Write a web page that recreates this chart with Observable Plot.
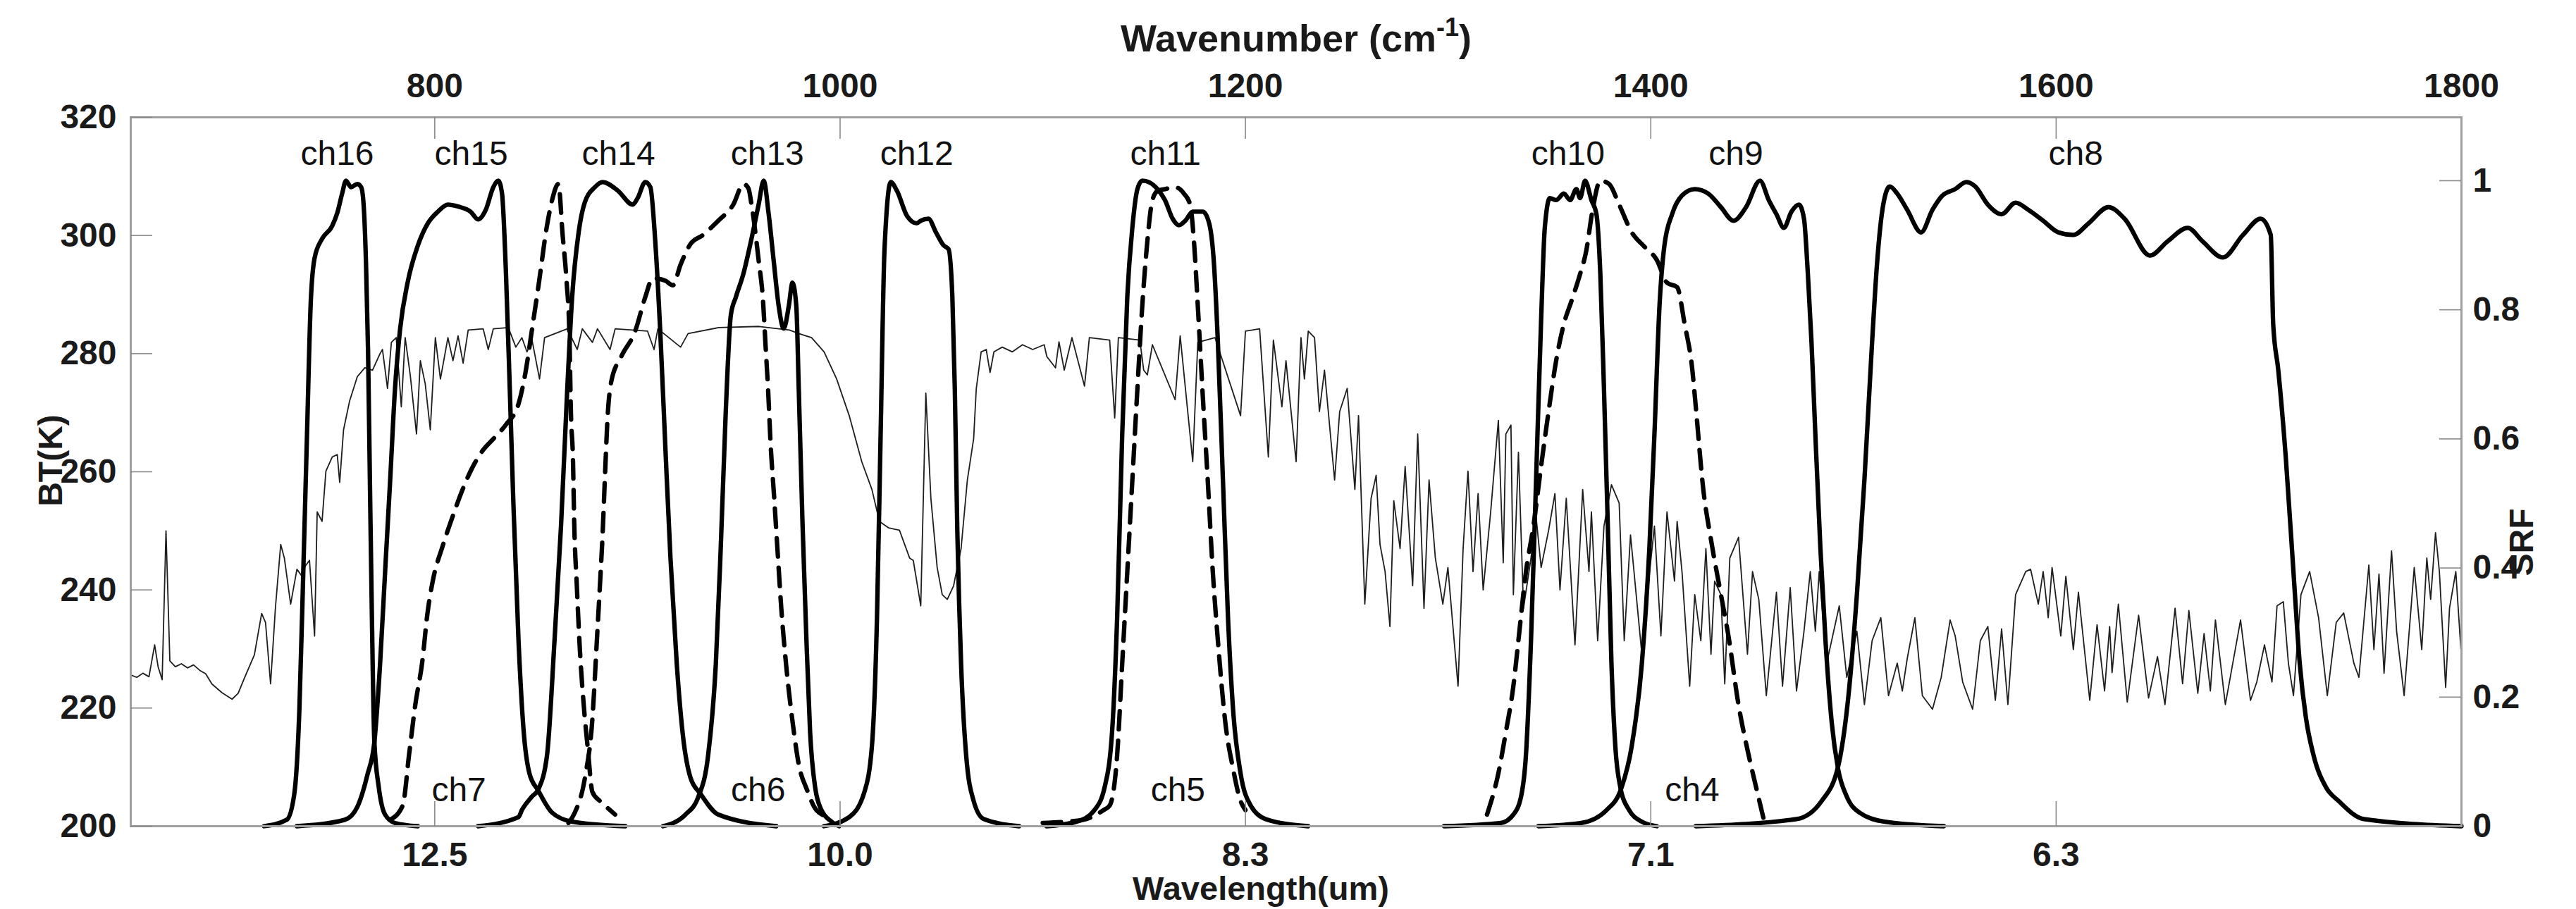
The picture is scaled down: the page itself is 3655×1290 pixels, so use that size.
<!DOCTYPE html>
<html><head><meta charset="utf-8">
<script src="https://cdn.jsdelivr.net/npm/d3@7"></script>
<script src="https://cdn.jsdelivr.net/npm/@observablehq/plot@0.6"></script>
<style>
html,body{margin:0;padding:0;background:#fff;}
#chart{width:3655px;height:1290px;overflow:hidden;}
</style></head><body><div id="chart"></div>
<script>
// ---------- DATA ----------
// Brightness temperature spectrum: [wavenumber (cm-1), BT (K)]
const btSpectrum = [
[650,225.6],[653,225.2],[656,225.9],[659,225.3],[661.8,230.7],[663.5,227],[665.5,224.8],[667.4,250],[669.3,228],[672,227],[675,227.5],[678,226.8],[681,227.3],[684,226.4],[687,225.8],[690,224.1],[695,222.6],[700,221.5],[703,222.5],[706,225],[711,229],[714.6,236],[716.5,234.5],[719,224.1],[721.4,237],[724,247.7],[725.8,245.4],[728.9,237.6],[732,243.5],[734.5,242.3],[736,244],[738.2,245],[740.7,232.2],[742,253.2],[744.4,251.6],[746.3,260.1],[749.4,262.5],[751.9,262.9],[753.1,258.2],[755,267.1],[758,272],[761.8,276.1],[765.5,277.6],[769.3,277.2],[773,280],[774.2,280.7],[776.7,274.1],[778.6,281.9],[781,282.7],[783.5,271],[785.4,282.7],[787.9,276.4],[791,266.4],[792.9,278.8],[795.3,274.9],[797.8,267.1],[800.3,282.7],[802.8,275.7],[806.5,282.7],[809,278.8],[811.5,283],[814,278.4],[816.5,284],[823.9,284.2],[826.4,280.7],[828.9,284.2],[836.3,284.4],[840,281.1],
[843,282.7],[845.5,280.3],[848,282.3],[851.7,275.7],[854.2,282.7],[865.4,284.2],[870.3,280.7],[872.8,284.2],[877.8,281.9],[880.3,284.2],[886.5,280.7],[889,284.2],[905,283.8],[908.2,280.7],[910.1,284.2],[921.3,281.1],[925,283.4],[940,284.4],[960,284.6],[975,284],[979.6,283.4],[985.9,282.7],[992.1,280.3],[998.3,275.7],[1004.5,269.5],[1010.7,261.7],[1015.7,257],[1019.4,251.6],[1024,250.5],[1029.3,250.1],[1034.3,245.4],
[1036.1,245],[1037.8,241.5],[1039.8,237.3],[1042.3,273.3],[1044.8,255.5],[1047.9,243.8],[1050.4,239.2],[1052.9,238.4],[1056,240.7],[1059.7,247],[1062.8,258.6],[1065.9,265.6],[1067.2,274.1],[1069.6,280.3],[1072.1,280.7],[1074,276.8],[1075.9,280.3],[1080,281.1],[1085,280.3],[1090,281.5],[1095,280.7],[1100.7,281.5],[1102,279.5],[1106.3,277.6],[1108,282],[1110.6,277.2],[1114.4,282.7],[1120.6,274.5],[1123,282.7],[1133,282.3],[1135.5,269.1],[1137.3,282.7],[1147.9,282.3],[1149.8,277.2],[1151.6,276.4],[1154.1,281.5],[1165.3,272.2],[1167.8,283],[1174,261.7],[1176.5,281.9],[1185,282.7],[1197.6,269.5],[1200,283.8],[1207,284.2],[1211.3,262.5],[1213.8,282.3],[1218,271],[1220,278.8],[1225,261.7],[1227.4,282.7],
[1229.1,275.7],[1231,283.8],[1234.1,282.7],[1236.5,270.2],[1239,277.2],[1244,258.6],[1246.5,270.2],[1250.2,274.1],[1254,257],[1255.8,269.5],[1258.9,237.6],[1262,255.5],[1264.5,259.4],[1266.4,247.7],[1268.9,243.1],[1271.3,233.8],[1273.2,255.1],[1276.3,247],[1278.8,260.9],[1282.5,240.7],[1285,266.4],[1288.1,236.9],[1290.6,258.6],[1293.7,245.4],[1297.4,237.6],[1299.9,243.8],[1304.9,223.7],[1307.4,247],[1309.8,260.1],[1312.3,243.1],[1314.8,256.3],[1317.3,240],[1321,253.2],[1324.8,268.7],[1327.2,244.6],[1328.5,266.4],[1331,267.9],[1332.2,239.2],[1334.7,263.3],[1337.2,236.9],[1340.9,245.4],[1343.4,252.4],[1345.9,243.8],[1349.6,250.1],[1352.7,256.3],[1355.2,240],[1358.3,255.5],[1362.6,230.7],[1366.4,257],[1369.5,243.1],[1370.7,253.2],[1373.8,231.4],[1376.9,250.8],[1380.6,257.8],[1384.4,254.7],[1386.9,231.4],[1390,249.3],[1395.6,229.1],[1398.7,240.7],[1401.8,250.8],[1405,232.2],[1408,253.2],[1411.7,241.5],[1413,251.6],[1415.4,243.1],[1419.2,223.7],[1421.7,239.2],
[1424.7,231.4],[1427.2,247],[1429.7,229.1],[1431.5,241.5],[1434.6,239.2],[1436.5,224.1],[1439,245.4],[1443.3,248.9],[1447.7,229.1],[1450.2,243.1],[1453.3,238.4],[1457,222.1],[1462,239.6],[1465,223.7],[1468.8,240.4],[1471.9,222.9],[1475.6,233],[1478.7,243.1],[1481.2,233],[1483.1,243.1],[1486.8,227.6],[1493,237.3],[1496.7,225.2],[1501.7,233],[1505.4,220.6],[1509.2,231.4],[1513.5,235.3],[1517.3,222.1],[1521.6,227.6],[1524.1,222.9],[1526.5,228.3],[1530.3,235.3],[1534,222.1],[1539,219.8],[1543.3,225.2],[1547.7,234.9],[1550.2,232.2],[1553.9,224.4],[1558.8,219.8],[1562.6,231.4],[1566.3,233.8],[1570,221.3],[1573.1,233.4],[1576.2,220.6],[1580,239.2],[1585,243.1],[1587.4,243.5],[1591.2,237.6],[1593.6,243.1],[1596.1,235.3],[1598,243.8],[1602.3,232.2],[1604.8,242.3],[1608.5,229.9],[1611,239.6],[1616.6,221.3],
[1620.2,234.1],[1623.9,222.9],[1626.4,233.8],[1627.6,226],[1630.7,237.6],[1635.1,221],[1640.7,235.7],[1645.6,221.7],[1650,228.7],[1653.7,220.6],[1658.7,236.9],[1662.4,224.1],[1665.5,236.5],[1669.9,222.5],[1673,232.6],[1676.1,222.9],[1678.6,234.9],[1683.5,220.6],[1691,234.9],[1695.9,221.3],[1699,224.4],[1702.8,230.7],[1706.5,224.4],[1709,237.3],[1712.1,238],[1714.6,227.6],[1717.1,222.1],[1720.8,239.2],[1725.1,243.1],[1729.5,235.3],[1733.8,222.1],[1738.2,234.5],[1741.9,236.1],[1746.9,227.6],[1749.4,225.2],[1754.3,244.2],[1756.8,229.9],[1759.3,242.7],[1761.8,225.9],[1765.5,246.6],[1768,233],[1771.7,222.1],[1776.7,243.8],[1780.4,229.9],[1782.9,245.4],[1784.8,238.4],[1787.2,249.7],[1789.1,243.1],[1792.2,223.5],[1794.1,236.9],[1797.2,243.1],[1799.7,230]
];

// Spectral response functions: [wavenumber (cm-1), SRF]
const ch16 = [[715.8,0],[727,0.01],[730.7,0.05],[733.2,0.18],[735.1,0.39],[737,0.61],[738.8,0.81],[740.7,0.88],[744.4,0.91],[749.4,0.93],[751.9,0.95],[754.3,0.98],[756.2,1],[758.7,0.99],[761.8,0.995],[763.7,0.99],[764.9,0.963],[766.1,0.87],[767.1,0.735],[768,0.536],[769,0.323],[770.2,0.131],[772.4,0.06],[775.5,0.018],[780.4,0.005],[791.6,0]];
const ch15 = [[732,0],[755.6,0.01],[761.8,0.03],[766.8,0.08],[770.2,0.13],[773,0.25],[775.5,0.394],[778,0.536],[780.4,0.678],[782.9,0.77],[786.6,0.842],[791.6,0.899],[796.6,0.934],[801.5,0.952],[806.5,0.963],[811.5,0.96],[817.7,0.952],[821.4,0.94],[825.2,0.955],[828.9,0.99],[831.4,1],[833.2,0.98],[835.1,0.86],[837,0.68],[838.8,0.5],[841.3,0.29],[843.8,0.15],[846.7,0.082],[851.1,0.055],[857.9,0.021],[867.8,0.007],[894,0]];
const ch14 = [[821.4,0],[841.3,0.014],[843,0.025],[848,0.046],[851.1,0.057],[855.4,0.11],[859.1,0.288],[862.3,0.465],[865.4,0.678],[867.8,0.82],[871,0.92],[874,0.966],[879,0.99],[882.8,0.998],[890.2,0.985],[897.7,0.963],[900.1,0.973],[903.9,0.998],[906.4,0.99],[908.8,0.906],[911.3,0.764],[913.8,0.586],[916.3,0.416],[919.4,0.252],[922.5,0.139],[926.2,0.075],[931.2,0.05],[939.9,0.018],[968.5,0]];
const ch13 = [[912.6,0],[923.7,0.018],[930,0.045],[934.9,0.11],[938.7,0.252],[941.1,0.43],[943.6,0.643],[946.1,0.792],[948.6,0.82],[952.3,0.856],[956,0.906],[959.8,0.963],[962.3,1],[964.7,0.95],[967.2,0.877],[969.7,0.806],[972.2,0.771],[974.7,0.806],[976.5,0.842],[978.4,0.806],[979.6,0.678],[981.5,0.465],[983.4,0.288],[985.2,0.146],[987.7,0.06],[990.8,0.025],[995.8,0.007],[999.5,0]];
const ch12 = [[992,0],[1004.5,0.014],[1012,0.053],[1015.7,0.124],[1018.2,0.323],[1020,0.607],[1021.9,0.892],[1025,0.998],[1028.1,0.984],[1033.1,0.945],[1037.8,0.934],[1039.8,0.938],[1043.6,0.941],[1047.3,0.92],[1051,0.9],[1053.5,0.894],[1055.4,0.82],[1056.6,0.678],[1057.8,0.465],[1059.7,0.252],[1062.2,0.11],[1065.9,0.039],[1070.9,0.011],[1088.3,0]];
const ch11 = [[1101.9,0],[1116.8,0.007],[1125.5,0.025],[1130.5,0.06],[1134.2,0.146],[1136.7,0.323],[1139.2,0.607],[1141.7,0.82],[1144.2,0.927],[1146.7,0.987],[1149.1,1],[1152.9,0.997],[1156.6,0.987],[1160.3,0.97],[1164.1,0.941],[1167.2,0.931],[1170.3,0.938],[1174,0.952],[1179,0.952],[1182.1,0.934],[1184.5,0.87],[1186.4,0.75],[1188.9,0.536],[1191.4,0.323],[1193.9,0.181],[1197.6,0.082],[1202.6,0.032],[1210,0.011],[1230.9,0]];
const ch10 = [[1298,0],[1326,0.005],[1332.2,0.018],[1336,0.046],[1338.4,0.11],[1340.9,0.288],[1343.4,0.536],[1345.9,0.785],[1347.7,0.927],[1350.2,0.973],[1353.3,0.97],[1357.1,0.98],[1360.2,0.97],[1363.3,0.987],[1365.1,0.973],[1367.6,1],[1370.7,0.97],[1373.2,0.948],[1375.1,0.856],[1376.9,0.678],[1378.8,0.465],[1380.6,0.252],[1382.5,0.124],[1385,0.06],[1389.3,0.025],[1395.6,0.007],[1403,0]];
const ch9 = [[1344.6,0],[1365.7,0.005],[1378.2,0.025],[1385.6,0.06],[1390.6,0.124],[1395.6,0.252],[1399.3,0.43],[1401.8,0.607],[1404.3,0.806],[1406.7,0.899],[1410.5,0.948],[1415.4,0.977],[1421.7,0.987],[1428.4,0.98],[1434.6,0.959],[1440.8,0.938],[1447,0.959],[1453.9,1],[1458.2,0.97],[1462,0.948],[1465.7,0.927],[1469.4,0.952],[1473.1,0.963],[1475.6,0.941],[1477.5,0.856],[1479.3,0.75],[1481.2,0.607],[1483.7,0.43],[1486.2,0.288],[1489.3,0.16],[1492.4,0.089],[1496.7,0.046],[1503,0.021],[1515.4,0.007],[1544.6,0]];
const ch8 = [[1422.2,0],[1471.9,0.011],[1484.3,0.039],[1492.4,0.092],[1498,0.217],[1501.7,0.359],[1505.4,0.536],[1509.2,0.75],[1511.6,0.87],[1514.7,0.963],[1517.9,0.991],[1521.6,0.98],[1526.5,0.955],[1533.4,0.92],[1539,0.955],[1543.9,0.977],[1550.2,0.987],[1555.7,0.998],[1560.1,0.991],[1566.3,0.963],[1573.1,0.948],[1580,0.966],[1586.2,0.955],[1593.6,0.938],[1601.1,0.92],[1608.5,0.916],[1616,0.934],[1625.8,0.959],[1633.8,0.941],[1646.3,0.884],[1655,0.906],[1664.9,0.927],[1672.3,0.906],[1682.3,0.881],[1692.2,0.916],[1700.9,0.941],[1705.9,0.916],[1707.1,0.778],[1709.6,0.707],[1713.3,0.572],[1717.1,0.394],[1720.2,0.252],[1723.3,0.167],[1727,0.11],[1733.2,0.06],[1739.4,0.039],[1751.8,0.011],[1800,0]];
// dashed channels
const ch7 = [[778,0.01],[784.2,0.032],[787.3,0.11],[790.4,0.188],[793.9,0.256],[796.3,0.327],[799.3,0.384],[803.8,0.433],[808.4,0.476],[813.4,0.519],[818.3,0.554],[823.9,0.583],[828.9,0.6],[835.1,0.622],[841.3,0.654],[844.2,0.693],[848.2,0.774],[851.4,0.842],[855.2,0.927],[857.9,0.97],[861,0.995],[863.1,0.916],[865.1,0.842],[866.4,0.767],[867.2,0.639],[868.2,0.568],[868.8,0.472],[870.1,0.373],[871.6,0.274],[873.4,0.192],[875.5,0.121],[877.8,0.053],[881.5,0.039],[886.5,0.025],[889,0.018]];
const ch6 = [[866,0.005],[869.1,0.021],[874.1,0.075],[877.8,0.167],[880,0.288],[881.5,0.373],[882.8,0.451],[884,0.543],[885.2,0.629],[887.1,0.689],[892.1,0.728],[898.9,0.767],[903.9,0.82],[907.6,0.849],[913.8,0.845],[917.5,0.838],[921.3,0.87],[926.2,0.902],[932.4,0.916],[939.9,0.938],[947.3,0.963],[952.3,0.995],[954.8,0.988],[956.3,0.963],[959.8,0.877],[962,0.813],[963.2,0.746],[964.5,0.675],[965.7,0.593],[967.5,0.508],[969.3,0.419],[971,0.337],[973.4,0.249],[976.5,0.163],[979.6,0.096],[983.6,0.057],[988.3,0.025],[994.6,0.014]];
const ch5 = [[1100,0.005],[1120,0.01],[1130,0.025],[1133,0.032],[1136.7,0.11],[1139.2,0.252],[1141.7,0.394],[1144.2,0.536],[1146.7,0.678],[1149.1,0.806],[1151.6,0.906],[1154.1,0.97],[1156.6,0.984],[1160.3,0.987],[1165.3,0.99],[1169.7,0.98],[1172.7,0.963],[1174.6,0.906],[1176.5,0.806],[1179,0.664],[1181.4,0.536],[1183.9,0.394],[1186.4,0.288],[1190.1,0.16],[1193.9,0.089],[1197.6,0.039],[1200,0.025]];
const ch4 = [[1319.2,0.018],[1324.8,0.082],[1328.5,0.146],[1332.2,0.217],[1334.7,0.288],[1338.4,0.394],[1342.1,0.465],[1345.9,0.558],[1349.6,0.643],[1353.3,0.721],[1357.1,0.778],[1360.8,0.813],[1364.5,0.849],[1368.2,0.892],[1371.3,0.955],[1375.1,1],[1379.4,0.995],[1384.4,0.963],[1390.6,0.92],[1396.8,0.898],[1403,0.877],[1408,0.842],[1413,0.835],[1416.7,0.778],[1420.5,0.707],[1422.2,0.65],[1425.9,0.522],[1429.7,0.444],[1434.6,0.359],[1438.3,0.295],[1443.3,0.188],[1448.3,0.11],[1452,0.06],[1455.7,0.011]];

// labels and ticks
const topLabels = ["ch16","ch15","ch14","ch13","ch12","ch11","ch10","ch9","ch8"];
const topLabelWn = [751.9,818,890.7,964.1,1037.8,1160.6,1359.2,1442,1609.7];
const bottomLabels = ["ch7","ch6","ch5","ch4"];
const bottomLabelWn = [811.9,959.6,1166.7,1420.4];
const wavenumberTicks = [800,1000,1200,1400,1600,1800];
const wavenumberTickLabels = ["800","1000","1200","1400","1600","1800"];
const wavelengthTickPos = [800,1000,1200,1400,1600];
const wavelengthTickLabels = ["12.5","10.0","8.3","7.1","6.3"];
const btTicks = [200,220,240,260,280,300,320];
const srfTicks = [0,0.2,0.4,0.6,0.8,1];
const srfTickLabels = ["0","0.2","0.4","0.6","0.8","1"];

// ---------- BUILD ----------
const SRF_K = 109.27; // BT units per 1.0 SRF (right axis: 0..1.098)
const toY = s => 200 + s * SRF_K;
const solidSet = {ch16, ch15, ch14, ch13, ch12, ch11, ch10, ch9, ch8};
const dashedSet = {ch7, ch6, ch5, ch4};
const rowsOf = set => Object.entries(set).flatMap(([ch, arr]) => arr.map(([wn, s]) => ({ch, wn, y: toY(s)})));
const solidRows = rowsOf(solidSet);
const dashedRows = rowsOf(dashedSet);
const btRows = btSpectrum.map(([wn, bt]) => ({wn, bt}));
const srfTickPos = srfTicks.map(toY);
const srfMap = new Map(srfTickPos.map((p, i) => [p, srfTickLabels[i]]));
const wlMap = new Map(wavelengthTickPos.map((p, i) => [p, wavelengthTickLabels[i]]));
const wnMap = new Map(wavenumberTicks.map((p, i) => [p, wavenumberTickLabels[i]]));

const pxX = 3306 / 1150, pxY = 1006 / 120;
const tickColor = "#8a8a8a";
const font = "'Liberation Sans', Arial, Helvetica, sans-serif";

const chart = Plot.plot({
  width: 3655, height: 1290,
  marginLeft: 185, marginRight: 163, marginTop: 166, marginBottom: 118,
  x: {domain: [650, 1800]},
  y: {domain: [200, 320]},
  style: {fontFamily: font, background: "#fff", color: "#1a1a1a", overflow: "visible"},
  marks: [
    Plot.line(btRows, {x: "wn", y: "bt", stroke: "#1e1e1e", strokeWidth: 1.8}),
    Plot.line(solidRows, {x: "wn", y: "y", z: "ch", stroke: "#000", strokeWidth: 6.3, curve: "monotone-x", strokeLinejoin: "round"}),
    Plot.line(dashedRows, {x: "wn", y: "y", z: "ch", stroke: "#000", strokeWidth: 6.3, curve: "monotone-x", strokeDasharray: "26,16"}),
    Plot.frame({stroke: "#a0a0a0", strokeWidth: 3}),
    Plot.ruleX(wavelengthTickPos, {y1: 320, y2: 320 - 31 / pxY, stroke: tickColor, strokeWidth: 1.6}),
    Plot.ruleX(wavelengthTickPos, {y1: 200, y2: 200 + 35 / pxY, stroke: tickColor, strokeWidth: 1.6}),
    Plot.ruleY(btTicks, {x1: 650, x2: 650 + 31 / pxX, stroke: tickColor, strokeWidth: 1.6}),
    Plot.ruleY(srfTickPos, {x1: 1800, x2: 1800 - 31 / pxX, stroke: tickColor, strokeWidth: 1.6}),
    Plot.axisX(wavenumberTicks, {anchor: "top", tickSize: 0, tickPadding: 29, label: null, tickFormat: d => wnMap.get(d), fontSize: 48, fontWeight: "bold"}),
    Plot.axisX(wavelengthTickPos, {anchor: "bottom", tickSize: 0, tickPadding: 22, label: null, tickFormat: d => wlMap.get(d), fontSize: 48, fontWeight: "bold"}),
    Plot.axisY(btTicks, {anchor: "left", tickSize: 0, tickPadding: 20, label: null, fontSize: 48, fontWeight: "bold"}),
    Plot.axisY(srfTickPos, {anchor: "right", tickSize: 0, tickPadding: 16, label: null, tickFormat: d => srfMap.get(d), fontSize: 48, fontWeight: "bold"}),
    Plot.text(topLabels, {x: (d, i) => topLabelWn[i], y: toY(1.041), text: d => d, fontSize: 48, fill: "#111"}),
    Plot.text(bottomLabels, {x: (d, i) => bottomLabelWn[i], y: toY(0.056), text: d => d, fontSize: 48, fill: "#111"}),
    Plot.text(["Wavenumber (cm-1)"], {frameAnchor: "top", text: d => d, textAnchor: "middle", lineAnchor: "bottom", dy: -94, fontSize: 54, fontWeight: "bold"}),
    Plot.text(["Wavelength(um)"], {frameAnchor: "bottom", text: d => d, textAnchor: "middle", lineAnchor: "bottom", dx: -50, dy: 104, fontSize: 47, fontWeight: "bold"}),
    Plot.text(["BT(K)"], {frameAnchor: "left", text: d => d, textAnchor: "middle", lineAnchor: "middle", rotate: -90, dx: -113, dy: -16, fontSize: 48, fontWeight: "bold"}),
    Plot.text(["SRF"], {frameAnchor: "right", text: d => d, textAnchor: "middle", lineAnchor: "middle", rotate: -90, dx: 86, dy: 100, fontSize: 48, fontWeight: "bold"})
  ]
});

// superscript for cm-1
chart.querySelectorAll("text").forEach(t => {
  if (t.textContent === "Wavenumber (cm-1)") {
    t.textContent = "";
    const ns = "http://www.w3.org/2000/svg";
    const a = document.createElementNS(ns, "tspan"); a.textContent = "Wavenumber (cm"; t.appendChild(a);
    const b = document.createElementNS(ns, "tspan"); b.textContent = "-1"; b.setAttribute("dy", "-22"); b.setAttribute("font-size", "36"); t.appendChild(b);
    const c = document.createElementNS(ns, "tspan"); c.textContent = ")"; c.setAttribute("dy", "22"); t.appendChild(c);
  }
});
document.getElementById("chart").append(chart);
</script>
</body></html>
